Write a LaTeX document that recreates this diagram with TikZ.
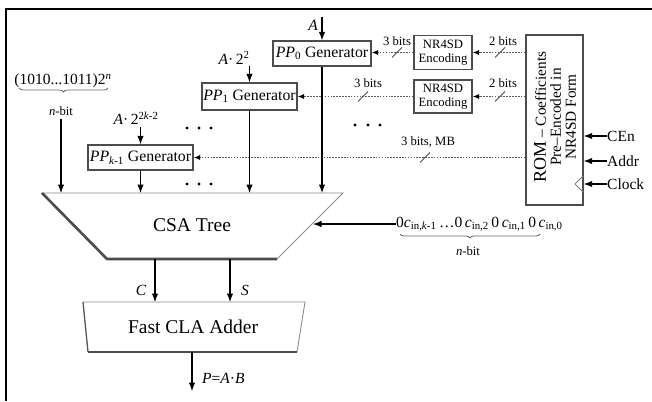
\documentclass[tikz,border=0pt]{standalone}
\usepackage{fontspec}
\setmainfont{Liberation Serif}
\usetikzlibrary{arrows.meta,decorations.pathreplacing}
\begin{document}
\begin{tikzpicture}[x=1pt,y=-1pt,
  box/.style={draw=black!70, line width=1.4pt, fill=white, inner sep=0pt},
  gen/.style={box, font=\fontsize{15.8}{18}\selectfont, minimum height=25pt},
  enc/.style={box, font=\fontsize{12.7}{14.5}\selectfont, align=center, minimum width=58pt, minimum height=34pt},
  small/.style={font=\fontsize{12.7}{14}\selectfont, inner sep=0pt},
  mid/.style={font=\fontsize{15.5}{17}\selectfont, inner sep=0pt},
  arr/.style={line width=1.1pt, -{Latex[length=8.5pt,width=6.5pt]}},
  dotarr/.style={draw=black!65, line width=1.5pt, dash pattern=on 1.6pt off 1.3pt, -{Latex[length=6.5pt,width=5.5pt,color=black]}},
  slash/.style={draw=black!70, line width=1pt},
  thinedge/.style={draw=black!45, line width=0.9pt},
  thickedge/.style={draw=black!70, line width=2.6pt, line join=round},
  brc/.style={decorate, decoration={brace, mirror, amplitude=4pt}, draw=black!60, line width=0.8pt},
  dot/.style={fill=black}
]
\useasboundingbox (0,0) rectangle (652,401);
% frame
\draw[line width=2pt] (6,401) -- (6,9) -- (652,9);

% generators
\node[gen, minimum width=98pt] (pp0) at (322,53.5) {\textit{PP}\textsubscript{0} Generator};
\node[gen, minimum width=95pt, minimum height=27pt] (pp1) at (249.5,96.5) {\textit{PP}\textsubscript{1} Generator};
\node[gen, minimum width=105pt] (ppk) at (140.5,157.5) {\textit{PP}\textsubscript{\textit{k}-1} Generator};

% inputs A
\node[mid, anchor=east] (ain) at (318,25) {\textit{A}};
\coordinate (atop) at (322,17);
\draw[arr] (atop) -- (pp0.north);
\node[mid] (a2) at (234,58) {\textit{A}·\,2\textsuperscript{2}};
\draw[arr] (a2.south -| pp1.north) ++(0,2) coordinate (a2s) (a2s) -- (pp1.north);
\node[mid] (a2k) at (136,118) {\textit{A}·\,2\textsuperscript{2\textit{k}-2}};
\draw[arr] (a2k.south -| ppk.north) ++(0,2) coordinate (a2ks) (a2ks) -- (ppk.north);

% constant input
\node[mid] (const) at (63,81) {(1010...1011)2\textsuperscript{\textit{n}}};
\draw[brc] (19,88) -- (108,88);
\node[small] (nbit1) at (61,111) {\textit{n}-bit};

% encoders and ROM
\node[enc] (enc1) at (443,52.5) {NR4SD\\Encoding};
\node[enc, minimum height=33pt] (enc2) at (443,96.5) {NR4SD\\Encoding};
\node[box, minimum width=57pt, minimum height=170pt] (rom) at (554.5,120) {};
\node[rotate=90, align=center, font=\fontsize{15.3}{15}\selectfont, inner sep=0pt] (romtxt) at (555,117)
  {{\fontsize{18}{15}\selectfont ROM} – Coefficients\\Pre–Encoded in\\NR4SD Form};

% dotted connections
\draw[dotarr] (rom.west |- enc1) -- (enc1.east);
\draw[dotarr] (enc1.west) -- (enc1.west -| pp0.east);
\draw[dotarr] (rom.west |- enc2) -- (enc2.east);
\draw[dotarr] (enc2.west) -- (enc2.west -| pp1.east);
\draw[dotarr] (rom.west |- ppk) -- (ppk.east);

% slashes and labels
\draw[slash] (392,57.5) -- (402,47.5);
\draw[slash] (495,57.5) -- (505,47.5);
\draw[slash] (358,101.5) -- (368,91.5);
\draw[slash] (495,101.5) -- (505,91.5);
\draw[slash] (420,162.5) -- (430,152.5);
\node[small] (l1) at (397,41) {3 bits};
\node[small] (l2) at (503,41) {2 bits};
\node[small] (l3) at (368,83) {3 bits};
\node[small] (l4) at (503,83) {2 bits};
\node[small] (l5) at (428,142) {3 bits, MB};

% ROM inputs
\node[mid, anchor=west] (cen) at (607,136) {CEn};
\node[mid, anchor=west] (addr) at (607,161) {Addr};
\node[mid, anchor=west] (clk) at (607,184) {Clock};
\draw[arr] (cen.west) -- (cen.west -| rom.east);
\draw[arr] (addr.west) -- (addr.west -| rom.east);
\draw[arr] (clk.west) -- (clk.west -| rom.east);
\draw[draw=black!50, line width=1pt] (583,176) -- (575,184) -- (583,192);

% dots
\foreach \x in {187,199,211} { \fill[dot] (\x,128) circle (1.7pt); \fill[dot] (\x,184) circle (1.7pt); }
\foreach \x in {355,368,380} { \fill[dot] (\x,125) circle (1.7pt); }

% CSA tree
\coordinate (csaTL) at (42,193);
\coordinate (csaTR) at (343,193);
\coordinate (csaBR) at (277,259);
\coordinate (csaBL) at (107,259);
\fill[white] (csaTL) -- (csaTR) -- (csaBR) -- (csaBL) -- cycle;
\draw[thinedge] (csaTL) -- (csaTR) -- (csaBR);
\draw[thickedge] (csaTL) -- (csaBL) -- (csaBR);
\node[font=\fontsize{19.5}{22}\selectfont] (csa) at (192,225) {CSA Tree};

\draw[arr] (nbit1.south) ++(0,3) coordinate (nb) (nb) -- (nb |- csaTL);
\draw[arr] (ppk.south) -- (ppk.south |- csaTL);
\draw[arr] (pp1.south) -- (pp1.south |- csaTL);
\draw[arr] (pp0.south) -- (pp0.south |- csaTL);

% carry-in input
\node[mid, anchor=west] (cin) at (396,224) {0\textit{c}\textsubscript{in,\textit{k}-1}\,…0\,\textit{c}\textsubscript{in,2}\,0\,\textit{c}\textsubscript{in,1}\,0\,\textit{c}\textsubscript{in,0}};
\coordinate (csaR) at (313,224);
\draw[arr] (cin.west) -- (csaR);
\draw[brc] (400,234) -- (540,234);
\node[small] (nbit2) at (468,251) {\textit{n}-bit};

% CLA adder
\coordinate (claTL) at (83,302);
\coordinate (claTR) at (305,302);
\coordinate (claBR) at (297,352);
\coordinate (claBL) at (88,352);
\fill[white] (claTL) -- (claTR) -- (claBR) -- (claBL) -- cycle;
\draw[thinedge] (claTL) -- (claTR) -- (claBR);
\draw[draw=black!65, line width=1.3pt] (claTL) -- (claBL);
\draw[thickedge] (claBL) -- (claBR);
\node[font=\fontsize{19.5}{22}\selectfont] (cla) at (193,327) {Fast CLA Adder};

\coordinate (cS) at (155,259);
\coordinate (cE) at (155,302);
\coordinate (sS) at (230,259);
\coordinate (sE) at (230,302);
\draw[arr] (cS) -- (cE);
\draw[arr] (sS) -- (sE);
\node[mid] (clab) at (141,290) {\textit{C}};
\node[mid] (slab) at (245,290) {\textit{S}};

\coordinate (pS) at (192,352);
\coordinate (pE) at (192,391);
\draw[arr] (pS) -- (pE);
\node[mid, anchor=west] (plab) at (202,378) {\textit{P}=\textit{A}·\textit{B}};
\end{tikzpicture}
\end{document}
